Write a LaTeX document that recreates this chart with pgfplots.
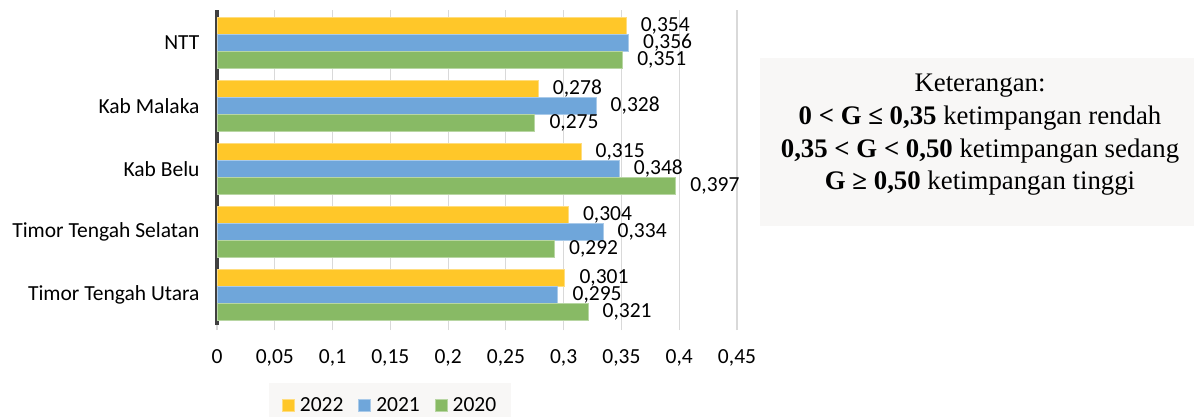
\documentclass[border=0pt]{standalone}
\usepackage{pgfplots}
\pgfplotsset{compat=1.18}
\usepackage{fontspec}
\setmainfont{Carlito}
\newfontfamily\timesfont{Liberation Serif}
\definecolor{cY}{HTML}{FFC729}
\definecolor{cB}{HTML}{6FA6DA}
\definecolor{cG}{HTML}{88BA65}
\definecolor{grid}{HTML}{D9D9D9}
\definecolor{axl}{HTML}{404040}
\definecolor{boxbg}{HTML}{F8F7F6}
\begin{document}
\begin{tikzpicture}
\useasboundingbox (0,0) rectangle (1194bp,417bp);
\begin{axis}[
  at={(217bp,92bp)}, anchor=south west,
  scale only axis, width=520bp, height=315bp,
  xbar, bar width=17bp,
  xmin=0, xmax=0.45, ymin=-0.48, ymax=4.52,
  xtick={0,0.05,0.1,0.15,0.2,0.25,0.3,0.35,0.4,0.45},
  xticklabels={0,{0,05},{0,1},{0,15},{0,2},{0,25},{0,3},{0,35},{0,4},{0,45}},
  ytick={0,1,2,3,4},
  yticklabels={Timor Tengah Utara,Timor Tengah Selatan,Kab Belu,Kab Malaka,NTT},
  major tick length=5bp, tick align=outside,
  xtick style={draw=grid, line width=1.2bp},
  ytick style={draw=none},
  xmajorgrids, major grid style={draw=grid, line width=1.2bp},
  separate axis lines,
  axis y line*=left, axis x line*=bottom,
  x axis line style={draw=none},
  y axis line style={draw=axl, line width=3bp, -},
  tick label style={font=\fontsize{21.5bp}{25bp}\selectfont},
  xticklabel style={yshift=-16bp},
  yticklabel style={xshift=-9bp},
  /pgf/number format/assume math mode=true,
  nodes near coords={\pgfmathprintnumber[fixed,fixed zerofill,precision=3,use comma,assume math mode=true]{\pgfplotspointmeta}},
  every node near coord/.append style={anchor=west, xshift=11bp, font=\fontsize{21.5bp}{25bp}\selectfont, text=black},
  legend columns=3,
  legend style={at={(0.333,-0.254)}, anchor=center, fill=boxbg, draw=none,
    font=\fontsize{21.5bp}{25bp}\selectfont, inner xsep=13bp, inner ysep=12bp,
    /tikz/every odd column/.append style={column sep=3bp},
    /tikz/every even column/.append style={column sep=13bp}},
  legend image code/.code={\fill[#1] (0bp,-6bp) rectangle (12bp,6bp);},
]
\addplot[fill=cY, draw=cY!60!white, line width=0.8bp, bar shift=17bp] coordinates {(0.301,0) (0.304,1) (0.315,2) (0.278,3) (0.354,4)};
\addplot[fill=cB, draw=cB!60!white, line width=0.8bp, bar shift=0bp] coordinates {(0.295,0) (0.334,1) (0.348,2) (0.328,3) (0.356,4)};
\addplot[fill=cG, draw=cG!60!white, line width=0.8bp, bar shift=-17bp] coordinates {(0.321,0) (0.292,1) (0.397,2) (0.275,3) (0.351,4)};
\legend{2022,2021,2020}
\end{axis}
\fill[boxbg] (760bp,191bp) rectangle (1194bp,359bp);
\begin{scope}[every node/.style={anchor=base, inner sep=0pt, font=\timesfont\fontsize{26.8bp}{32bp}\selectfont}]
\node at (980bp,325.3bp) {Keterangan:};
\node at (980bp,292bp) {\textbf{0 < G ≤ 0,35} ketimpangan rendah};
\node at (980bp,259bp) {\textbf{0,35 < G < 0,50} ketimpangan sedang};
\node at (980bp,227bp) {\textbf{G ≥ 0,50} ketimpangan tinggi};
\end{scope}
\end{tikzpicture}
\end{document}
